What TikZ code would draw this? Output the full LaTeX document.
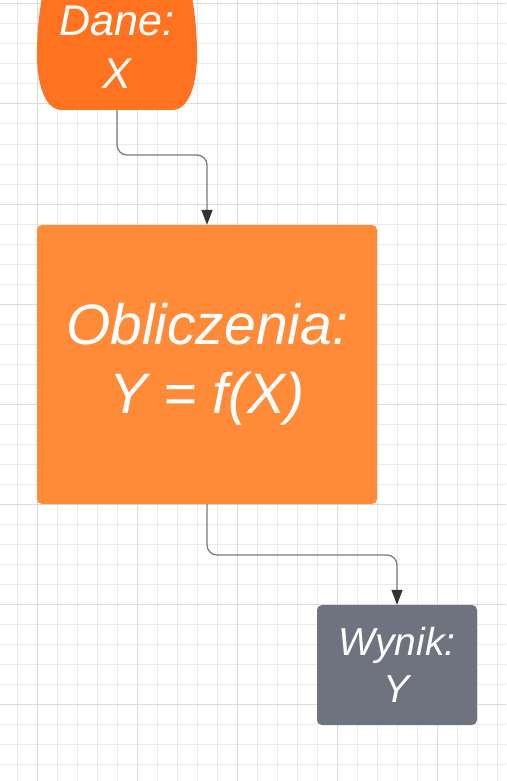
\documentclass[tikz,border=0pt]{standalone}
\usepackage{fontspec}
\setmainfont{Liberation Sans}
\usepackage{xcolor}
\definecolor{cIn}{HTML}{FF7320}
\definecolor{cCalc}{HTML}{FF8A38}
\definecolor{cOut}{HTML}{6F7380}
\definecolor{ink}{HTML}{333333}
\definecolor{wire}{HTML}{7A7A7A}
\definecolor{gminor}{HTML}{EBEBEB}
\definecolor{gmajor}{HTML}{DCDCDC}
\usetikzlibrary{arrows.meta}

\begin{document}
\begin{tikzpicture}[x=1pt,y=-1pt,
  every node/.style={align=center,text=white,font=\itshape},
  box/.style={rounded corners=5pt,inner sep=0pt},
  inbox/.style={minimum width=160pt,minimum height=125pt,inner sep=0pt,
    font=\itshape\fontsize{43}{53}\selectfont},
  calcbox/.style={box,fill=cCalc,minimum width=340pt,minimum height=279pt,
    font=\itshape\fontsize{57}{69}\selectfont},
  outbox/.style={box,fill=cOut,minimum width=160pt,minimum height=120pt,
    font=\itshape\fontsize{39}{47}\selectfont},
  conn/.style={-{Triangle[length=15pt,width=11pt,color=ink]},wire,
    line width=1.3pt,rounded corners=10pt},
  gmin/.style={gminor,line width=1pt},
  gmaj/.style={gmajor,line width=1pt}]
\useasboundingbox (0,0) rectangle (506,781);

% --- grid ---
\foreach \x in {-3,17,...,497} \draw[gmin] (\x,0) -- (\x,781);
\foreach \y in {4,24,...,784} \draw[gmin] (0,\y) -- (506,\y);
\foreach \x in {37,137,...,437} \draw[gmaj] (\x,0) -- (\x,781);
\foreach \y in {4,104,...,704} \draw[gmaj] (0,\y) -- (506,\y);

% input shape (barrel, top cut off)
\fill[cIn] (62,110) .. controls (44,110) and (37,82) .. (37,55)
  .. controls (37,28) and (40,2) .. (46,-20) -- (188,-20)
  .. controls (194,2) and (197,28) .. (197,55)
  .. controls (197,82) and (190,110) .. (172,110) -- cycle;

% --- nodes ---
\node[inbox]   (dane)  at (117,47.5) {Dane:\\X};
\node[calcbox] (obl)   at (207,364.5) {Obliczenia:\\Y = f(X)};
\node[outbox]  (wynik) at (397,665) {Wynik:\\Y};

% --- connectors ---
\draw[conn] (dane.south) -- (117,155) -| (obl.north);
\draw[conn] (obl.south) -- (207,555) -| (wynik.north);
\end{tikzpicture}
\end{document}
